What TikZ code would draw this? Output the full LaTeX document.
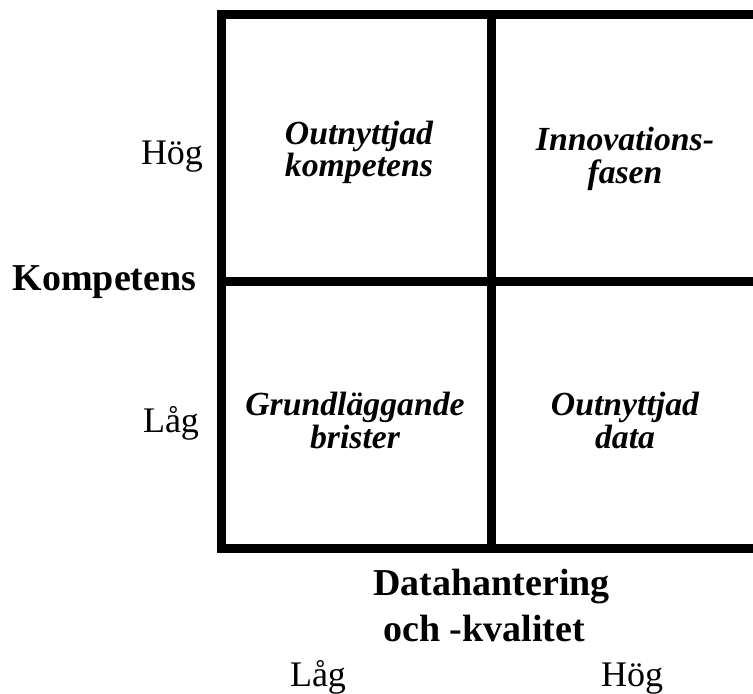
\documentclass[tikz,border=0pt]{standalone}
\usepackage{fontspec}
\setmainfont{Liberation Serif}
\begin{document}
\begin{tikzpicture}[x=0.75pt,y=-0.75pt,
  grid/.style={line width=6.75pt,line cap=rect},
  axislbl/.style={font=\fontsize{27}{27}\selectfont,inner sep=0pt,anchor=base},
  axistitle/.style={font=\fontsize{28.5}{28.5}\selectfont\bfseries,inner sep=0pt,anchor=base},
  cell/.style={font=\fontsize{25.3}{25.3}\selectfont\bfseries\itshape,inner sep=0pt,anchor=base}]
\useasboundingbox (0,0) rectangle (753,693);
\clip (0,0) rectangle (753,693);
% 2x2 matrix frame (right edge runs past the page)
\coordinate (tl) at (221.5,14.5);
\coordinate (br) at (760.5,548.5);
\draw[grid] (tl) rectangle (br);
\draw[grid] (491,14.5) -- (491,548.5);
\draw[grid] (221.5,281.5) -- (760.5,281.5);
% quadrant labels
\node[cell] (q1a) at (359,144) {Outnyttjad};
\node[cell] (q1b) at (359,176) {kompetens};
\node[cell] (q2a) at (625,150) {Innovations-};
\node[cell] (q2b) at (625,183) {fasen};
\node[cell] (q3a) at (355,415) {Grundläggande};
\node[cell] (q3b) at (355,448) {brister};
\node[cell] (q4a) at (625,415) {Outnyttjad};
\node[cell] (q4b) at (625,448) {data};
% vertical axis
\node[axislbl] (yhi) at (172,164) {Hög};
\node[axislbl] (ylo) at (171,432) {Låg};
\node[axistitle] (ytitle) at (104.5,290) {Kompetens};
% horizontal axis
\node[axistitle] (xtitle1) at (491.5,595) {Datahantering};
\node[axistitle] (xtitle2) at (484,641) {och -kvalitet};
\node[axislbl] (xlo) at (318,686) {Låg};
\node[axislbl] (xhi) at (632,686) {Hög};
\end{tikzpicture}
\end{document}
